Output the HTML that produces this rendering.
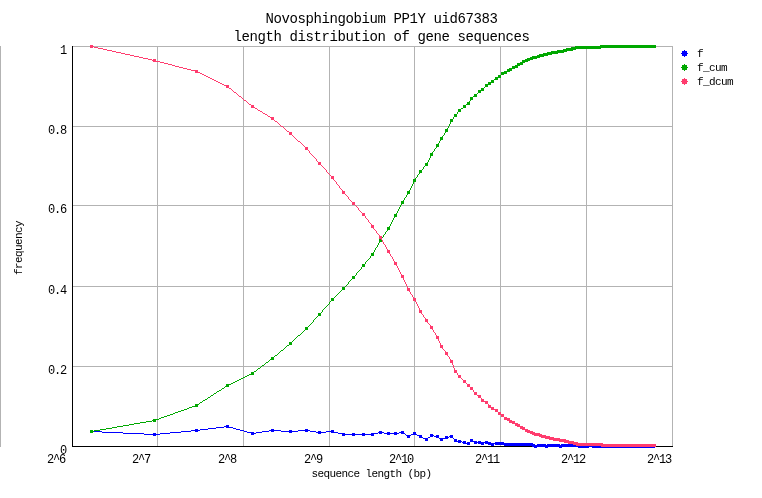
<!DOCTYPE html>
<html><head><meta charset="utf-8"><style>
html,body{margin:0;padding:0;background:#fff;}
svg{display:block;will-change:transform;}
text{font-family:"Liberation Mono";fill:#000;}
.a{font-size:14px;letter-spacing:-0.4px;}
.b{font-size:12px;letter-spacing:-1.2px;}
.c{font-size:11px;letter-spacing:-0.6px;}
</style></head><body>
<svg width="762" height="498" viewBox="0 0 762 498">
<rect width="762" height="498" fill="#fff"/>
<g fill="#b3b3b3"><rect x="157" y="46" width="1" height="400"/><rect x="243" y="46" width="1" height="400"/><rect x="329" y="46" width="1" height="400"/><rect x="414" y="46" width="1" height="400"/><rect x="500" y="46" width="1" height="400"/><rect x="586" y="46" width="1" height="400"/><rect x="72" y="46" width="600" height="1"/><rect x="72" y="126" width="600" height="1"/><rect x="72" y="205" width="600" height="1"/><rect x="72" y="286" width="600" height="1"/><rect x="72" y="366" width="600" height="1"/><rect x="672" y="46" width="1" height="401"/><rect x="0" y="46" width="1" height="401"/></g><g fill="#000"><rect x="72" y="46" width="1" height="401"/><rect x="72" y="446" width="601" height="1"/></g><g shape-rendering="crispEdges"><path fill="#0000ff" d="M226 425h3v1h-3zM224 426h5v1h-5zM216 427h8v1h-8zM226 427h7v1h-7zM208 428h8v1h-8zM233 428h3v1h-3zM195 429h3v1h-3zM200 429h8v1h-8zM236 429h4v1h-4zM271 429h3v1h-3zM305 429h3v1h-3zM90 430h3v1h-3zM191 430h9v1h-9zM240 430h4v1h-4zM269 430h12v1h-12zM289 430h3v1h-3zM298 430h12v1h-12zM331 430h3v1h-3zM90 431h12v1h-12zM181 431h10v1h-10zM195 431h3v1h-3zM244 431h3v1h-3zM262 431h7v1h-7zM271 431h3v1h-3zM281 431h17v1h-17zM305 431h3v1h-3zM310 431h6v1h-6zM318 431h3v1h-3zM326 431h8v1h-8zM379 431h3v1h-3zM401 431h3v1h-3zM90 432h3v1h-3zM102 432h21v1h-21zM170 432h11v1h-11zM247 432h7v1h-7zM256 432h6v1h-6zM289 432h3v1h-3zM316 432h10v1h-10zM331 432h7v1h-7zM378 432h6v1h-6zM387 432h3v1h-3zM394 432h3v1h-3zM399 432h5v1h-5zM413 432h3v1h-3zM123 433h21v1h-21zM153 433h3v1h-3zM160 433h10v1h-10zM251 433h5v1h-5zM318 433h3v1h-3zM338 433h7v1h-7zM352 433h3v1h-3zM362 433h3v1h-3zM371 433h7v1h-7zM379 433h3v1h-3zM384 433h15v1h-15zM401 433h4v1h-4zM413 433h3v1h-3zM144 434h16v1h-16zM251 434h3v1h-3zM342 434h32v1h-32zM387 434h3v1h-3zM394 434h3v1h-3zM405 434h1v1h-1zM411 434h6v1h-6zM430 434h3v1h-3zM153 435h3v1h-3zM342 435h3v1h-3zM352 435h3v1h-3zM362 435h3v1h-3zM371 435h3v1h-3zM406 435h5v1h-5zM417 435h5v1h-5zM430 435h4v1h-4zM436 435h3v1h-3zM450 435h3v1h-3zM407 436h3v1h-3zM419 436h3v1h-3zM430 436h3v1h-3zM434 436h5v1h-5zM445 436h3v1h-3zM449 436h4v1h-4zM407 437h3v1h-3zM419 437h4v1h-4zM428 437h2v1h-2zM436 437h3v1h-3zM445 437h4v1h-4zM450 437h3v1h-3zM423 438h5v1h-5zM439 438h9v1h-9zM453 438h1v1h-1zM425 439h3v1h-3zM440 439h3v1h-3zM454 439h3v1h-3zM470 439h3v1h-3zM425 440h3v1h-3zM440 440h3v1h-3zM454 440h3v1h-3zM458 440h3v1h-3zM470 440h3v1h-3zM454 441h8v1h-8zM463 441h3v1h-3zM470 441h7v1h-7zM478 441h3v1h-3zM485 441h3v1h-3zM458 442h3v1h-3zM462 442h4v1h-4zM467 442h3v1h-3zM474 442h17v1h-17zM495 442h9v1h-9zM463 443h7v1h-7zM474 443h3v1h-3zM478 443h6v1h-6zM485 443h48v1h-48zM467 444h3v1h-3zM481 444h3v1h-3zM488 444h6v1h-6zM495 444h40v1h-40zM537 444h9v1h-9zM547 444h13v1h-13zM561 444h18v1h-18zM587 444h6v1h-6zM491 445h3v1h-3zM504 445h151v1h-151zM532 446h123v1h-123zM534 447h3v1h-3zM545 447h3v1h-3zM559 447h3v1h-3zM578 447h11v1h-11zM592 447h63v1h-63z"/><path fill="#00a800" d="M600 45h56v1h-56zM575 46h81v1h-81zM571 47h85v1h-85zM566 48h35v1h-35zM563 49h13v1h-13zM557 50h16v1h-16zM551 51h16v1h-16zM547 52h17v1h-17zM543 53h15v1h-15zM539 54h13v1h-13zM537 55h11v1h-11zM532 56h12v1h-12zM530 57h10v1h-10zM527 58h10v1h-10zM525 59h8v1h-8zM522 60h8v1h-8zM522 61h6v1h-6zM520 62h5v1h-5zM517 63h6v1h-6zM517 64h6v1h-6zM515 65h5v1h-5zM512 66h6v1h-6zM512 67h6v1h-6zM509 68h6v1h-6zM507 69h5v1h-5zM507 70h5v1h-5zM504 71h6v1h-6zM501 72h6v1h-6zM501 73h6v1h-6zM501 74h3v1h-3zM498 75h3v1h-3zM498 76h3v1h-3zM495 77h6v1h-6zM495 78h3v1h-3zM494 79h4v1h-4zM491 80h3v1h-3zM491 81h3v1h-3zM488 82h6v1h-6zM488 83h3v1h-3zM485 84h6v1h-6zM485 85h3v1h-3zM485 86h3v1h-3zM484 87h1v1h-1zM481 88h3v1h-3zM481 89h3v1h-3zM478 90h6v1h-6zM478 91h3v1h-3zM478 92h3v1h-3zM477 93h1v1h-1zM474 94h3v1h-3zM474 95h3v1h-3zM473 96h4v1h-4zM470 97h3v1h-3zM470 98h3v1h-3zM470 99h3v1h-3zM470 100h1v1h-1zM469 101h1v1h-1zM467 102h3v1h-3zM467 103h3v1h-3zM466 104h4v1h-4zM463 105h3v1h-3zM463 106h3v1h-3zM463 107h3v1h-3zM461 108h2v1h-2zM458 109h3v1h-3zM458 110h3v1h-3zM458 111h3v1h-3zM457 112h1v1h-1zM457 113h1v1h-1zM454 114h3v1h-3zM454 115h3v1h-3zM454 116h3v1h-3zM453 117h1v1h-1zM453 118h1v1h-1zM450 119h3v1h-3zM450 120h3v1h-3zM450 121h3v1h-3zM450 122h1v1h-1zM450 123h1v1h-1zM449 124h1v1h-1zM449 125h1v1h-1zM448 126h1v1h-1zM448 127h1v1h-1zM447 128h1v1h-1zM445 129h3v1h-3zM445 130h3v1h-3zM445 131h3v1h-3zM445 132h1v1h-1zM444 133h1v1h-1zM444 134h1v1h-1zM443 135h1v1h-1zM442 136h1v1h-1zM440 137h3v1h-3zM440 138h3v1h-3zM440 139h3v1h-3zM440 140h1v1h-1zM439 141h1v1h-1zM439 142h1v1h-1zM438 143h1v1h-1zM436 144h3v1h-3zM436 145h3v1h-3zM436 146h3v1h-3zM436 147h1v1h-1zM435 148h1v1h-1zM434 149h1v1h-1zM434 150h1v1h-1zM433 151h1v1h-1zM432 152h1v1h-1zM430 153h3v1h-3zM430 154h3v1h-3zM430 155h3v1h-3zM430 156h1v1h-1zM430 157h1v1h-1zM429 158h1v1h-1zM429 159h1v1h-1zM428 160h1v1h-1zM428 161h1v1h-1zM427 162h1v1h-1zM425 163h3v1h-3zM425 164h3v1h-3zM425 165h3v1h-3zM424 166h1v1h-1zM423 167h1v1h-1zM423 168h1v1h-1zM422 169h1v1h-1zM419 170h3v1h-3zM419 171h3v1h-3zM419 172h3v1h-3zM419 173h1v1h-1zM418 174h1v1h-1zM417 175h1v1h-1zM417 176h1v1h-1zM416 177h1v1h-1zM415 178h1v1h-1zM413 179h3v1h-3zM413 180h3v1h-3zM413 181h3v1h-3zM413 182h1v1h-1zM413 183h1v1h-1zM412 184h1v1h-1zM412 185h1v1h-1zM411 186h1v1h-1zM411 187h1v1h-1zM410 188h1v1h-1zM410 189h1v1h-1zM409 190h1v1h-1zM407 191h3v1h-3zM407 192h3v1h-3zM407 193h3v1h-3zM407 194h1v1h-1zM406 195h1v1h-1zM406 196h1v1h-1zM405 197h1v1h-1zM404 198h1v1h-1zM404 199h1v1h-1zM403 200h1v1h-1zM401 201h3v1h-3zM401 202h3v1h-3zM401 203h3v1h-3zM401 204h1v1h-1zM400 205h1v1h-1zM400 206h1v1h-1zM399 207h1v1h-1zM399 208h1v1h-1zM398 209h1v1h-1zM398 210h1v1h-1zM397 211h1v1h-1zM397 212h1v1h-1zM396 213h1v1h-1zM394 214h3v1h-3zM394 215h3v1h-3zM394 216h3v1h-3zM394 217h1v1h-1zM393 218h1v1h-1zM393 219h1v1h-1zM392 220h1v1h-1zM392 221h1v1h-1zM391 222h1v1h-1zM391 223h1v1h-1zM390 224h1v1h-1zM390 225h1v1h-1zM389 226h1v1h-1zM387 227h3v1h-3zM387 228h3v1h-3zM387 229h3v1h-3zM387 230h1v1h-1zM386 231h1v1h-1zM385 232h1v1h-1zM385 233h1v1h-1zM384 234h1v1h-1zM383 235h1v1h-1zM383 236h1v1h-1zM382 237h1v1h-1zM381 238h1v1h-1zM379 239h3v1h-3zM379 240h3v1h-3zM379 241h3v1h-3zM379 242h1v1h-1zM378 243h1v1h-1zM378 244h1v1h-1zM377 245h1v1h-1zM377 246h1v1h-1zM376 247h1v1h-1zM375 248h1v1h-1zM375 249h1v1h-1zM374 250h1v1h-1zM374 251h1v1h-1zM373 252h1v1h-1zM371 253h3v1h-3zM371 254h3v1h-3zM371 255h3v1h-3zM370 256h1v1h-1zM370 257h1v1h-1zM369 258h1v1h-1zM368 259h1v1h-1zM367 260h1v1h-1zM366 261h1v1h-1zM365 262h1v1h-1zM365 263h1v1h-1zM362 264h3v1h-3zM362 265h3v1h-3zM362 266h3v1h-3zM361 267h1v1h-1zM361 268h1v1h-1zM360 269h1v1h-1zM359 270h1v1h-1zM358 271h1v1h-1zM357 272h1v1h-1zM356 273h1v1h-1zM356 274h1v1h-1zM355 275h1v1h-1zM352 276h3v1h-3zM352 277h3v1h-3zM352 278h3v1h-3zM351 279h1v1h-1zM350 280h1v1h-1zM349 281h1v1h-1zM348 282h1v1h-1zM348 283h1v1h-1zM347 284h1v1h-1zM346 285h1v1h-1zM345 286h1v1h-1zM342 287h3v1h-3zM342 288h3v1h-3zM342 289h3v1h-3zM341 290h1v1h-1zM340 291h1v1h-1zM339 292h1v1h-1zM338 293h1v1h-1zM337 294h1v1h-1zM336 295h1v1h-1zM335 296h1v1h-1zM334 297h1v1h-1zM331 298h3v1h-3zM331 299h3v1h-3zM331 300h3v1h-3zM330 301h1v1h-1zM329 302h1v1h-1zM329 303h1v1h-1zM328 304h1v1h-1zM327 305h1v1h-1zM326 306h1v1h-1zM325 307h1v1h-1zM324 308h1v1h-1zM323 309h1v1h-1zM322 310h1v1h-1zM322 311h1v1h-1zM321 312h1v1h-1zM318 313h3v1h-3zM318 314h3v1h-3zM318 315h3v1h-3zM317 316h1v1h-1zM316 317h1v1h-1zM315 318h1v1h-1zM314 319h1v1h-1zM313 320h1v1h-1zM313 321h1v1h-1zM312 322h1v1h-1zM311 323h1v1h-1zM310 324h1v1h-1zM309 325h1v1h-1zM308 326h1v1h-1zM305 327h3v1h-3zM305 328h3v1h-3zM305 329h3v1h-3zM304 330h1v1h-1zM303 331h1v1h-1zM302 332h1v1h-1zM301 333h1v1h-1zM300 334h1v1h-1zM298 335h2v1h-2zM297 336h1v1h-1zM296 337h1v1h-1zM295 338h1v1h-1zM294 339h1v1h-1zM293 340h1v1h-1zM292 341h1v1h-1zM289 342h3v1h-3zM289 343h3v1h-3zM289 344h3v1h-3zM287 345h2v1h-2zM286 346h1v1h-1zM285 347h1v1h-1zM284 348h1v1h-1zM283 349h1v1h-1zM281 350h2v1h-2zM280 351h1v1h-1zM279 352h1v1h-1zM278 353h1v1h-1zM277 354h1v1h-1zM275 355h2v1h-2zM274 356h1v1h-1zM271 357h3v1h-3zM271 358h3v1h-3zM270 359h4v1h-4zM269 360h1v1h-1zM268 361h1v1h-1zM266 362h2v1h-2zM265 363h1v1h-1zM264 364h1v1h-1zM262 365h2v1h-2zM261 366h1v1h-1zM260 367h1v1h-1zM258 368h2v1h-2zM257 369h1v1h-1zM256 370h1v1h-1zM254 371h2v1h-2zM251 372h3v1h-3zM251 373h3v1h-3zM249 374h5v1h-5zM247 375h2v1h-2zM245 376h2v1h-2zM243 377h2v1h-2zM241 378h2v1h-2zM239 379h2v1h-2zM237 380h2v1h-2zM235 381h2v1h-2zM233 382h2v1h-2zM231 383h2v1h-2zM226 384h5v1h-5zM226 385h3v1h-3zM225 386h4v1h-4zM224 387h1v1h-1zM222 388h2v1h-2zM221 389h1v1h-1zM219 390h2v1h-2zM217 391h2v1h-2zM216 392h1v1h-1zM214 393h2v1h-2zM213 394h1v1h-1zM211 395h2v1h-2zM210 396h1v1h-1zM208 397h2v1h-2zM207 398h1v1h-1zM205 399h2v1h-2zM203 400h2v1h-2zM202 401h1v1h-1zM200 402h2v1h-2zM199 403h1v1h-1zM195 404h4v1h-4zM195 405h3v1h-3zM192 406h6v1h-6zM189 407h3v1h-3zM187 408h2v1h-2zM184 409h3v1h-3zM181 410h3v1h-3zM178 411h3v1h-3zM175 412h3v1h-3zM173 413h2v1h-2zM170 414h3v1h-3zM167 415h3v1h-3zM164 416h3v1h-3zM161 417h3v1h-3zM159 418h2v1h-2zM153 419h6v1h-6zM152 420h4v1h-4zM146 421h6v1h-6zM153 421h3v1h-3zM140 422h6v1h-6zM134 423h6v1h-6zM129 424h5v1h-5zM123 425h6v1h-6zM117 426h6v1h-6zM112 427h5v1h-5zM106 428h6v1h-6zM100 429h6v1h-6zM90 430h3v1h-3zM94 430h6v1h-6zM90 431h4v1h-4zM90 432h3v1h-3z"/><path fill="#ff3c6e" d="M90 45h3v1h-3zM90 46h4v1h-4zM90 47h3v1h-3zM94 47h4v1h-4zM98 48h5v1h-5zM103 49h4v1h-4zM107 50h5v1h-5zM112 51h4v1h-4zM116 52h5v1h-5zM121 53h4v1h-4zM125 54h5v1h-5zM130 55h4v1h-4zM134 56h5v1h-5zM139 57h4v1h-4zM143 58h5v1h-5zM148 59h4v1h-4zM153 59h3v1h-3zM152 60h4v1h-4zM153 61h7v1h-7zM160 62h4v1h-4zM164 63h4v1h-4zM168 64h4v1h-4zM172 65h3v1h-3zM175 66h4v1h-4zM179 67h4v1h-4zM183 68h4v1h-4zM187 69h4v1h-4zM191 70h7v1h-7zM195 71h3v1h-3zM195 72h5v1h-5zM200 73h2v1h-2zM202 74h2v1h-2zM204 75h2v1h-2zM206 76h2v1h-2zM208 77h2v1h-2zM210 78h2v1h-2zM212 79h2v1h-2zM214 80h2v1h-2zM216 81h2v1h-2zM218 82h2v1h-2zM220 83h2v1h-2zM222 84h2v1h-2zM224 85h5v1h-5zM226 86h3v1h-3zM226 87h3v1h-3zM229 88h2v1h-2zM231 89h1v1h-1zM232 90h1v1h-1zM233 91h1v1h-1zM234 92h2v1h-2zM236 93h1v1h-1zM237 94h1v1h-1zM238 95h1v1h-1zM239 96h2v1h-2zM241 97h1v1h-1zM242 98h1v1h-1zM243 99h1v1h-1zM244 100h2v1h-2zM246 101h1v1h-1zM247 102h1v1h-1zM248 103h1v1h-1zM249 104h2v1h-2zM251 105h3v1h-3zM251 106h3v1h-3zM251 107h4v1h-4zM255 108h2v1h-2zM257 109h1v1h-1zM258 110h2v1h-2zM260 111h2v1h-2zM262 112h1v1h-1zM263 113h2v1h-2zM265 114h2v1h-2zM267 115h1v1h-1zM268 116h2v1h-2zM270 117h4v1h-4zM271 118h3v1h-3zM271 119h3v1h-3zM274 120h1v1h-1zM275 121h2v1h-2zM277 122h1v1h-1zM278 123h1v1h-1zM279 124h1v1h-1zM280 125h1v1h-1zM281 126h2v1h-2zM283 127h1v1h-1zM284 128h1v1h-1zM285 129h1v1h-1zM286 130h1v1h-1zM287 131h2v1h-2zM289 132h3v1h-3zM289 133h3v1h-3zM289 134h3v1h-3zM292 135h1v1h-1zM293 136h1v1h-1zM294 137h1v1h-1zM295 138h1v1h-1zM296 139h1v1h-1zM297 140h1v1h-1zM298 141h2v1h-2zM300 142h1v1h-1zM301 143h1v1h-1zM302 144h1v1h-1zM303 145h1v1h-1zM304 146h1v1h-1zM305 147h3v1h-3zM305 148h3v1h-3zM305 149h3v1h-3zM308 150h1v1h-1zM309 151h1v1h-1zM309 152h1v1h-1zM310 153h1v1h-1zM311 154h1v1h-1zM312 155h1v1h-1zM313 156h1v1h-1zM314 157h1v1h-1zM315 158h1v1h-1zM316 159h1v1h-1zM316 160h1v1h-1zM317 161h1v1h-1zM318 162h3v1h-3zM318 163h3v1h-3zM318 164h3v1h-3zM321 165h1v1h-1zM322 166h1v1h-1zM323 167h1v1h-1zM324 168h1v1h-1zM325 169h1v1h-1zM326 170h1v1h-1zM326 171h1v1h-1zM327 172h1v1h-1zM328 173h1v1h-1zM329 174h1v1h-1zM330 175h1v1h-1zM331 176h3v1h-3zM331 177h3v1h-3zM331 178h3v1h-3zM333 179h1v1h-1zM334 180h1v1h-1zM335 181h1v1h-1zM336 182h1v1h-1zM336 183h1v1h-1zM337 184h1v1h-1zM338 185h1v1h-1zM339 186h1v1h-1zM339 187h1v1h-1zM340 188h1v1h-1zM341 189h1v1h-1zM342 190h1v1h-1zM342 191h3v1h-3zM342 192h3v1h-3zM342 193h3v1h-3zM345 194h1v1h-1zM346 195h1v1h-1zM347 196h1v1h-1zM348 197h1v1h-1zM348 198h1v1h-1zM349 199h1v1h-1zM350 200h1v1h-1zM351 201h1v1h-1zM352 202h3v1h-3zM352 203h3v1h-3zM352 204h3v1h-3zM355 205h1v1h-1zM356 206h1v1h-1zM357 207h1v1h-1zM358 208h1v1h-1zM358 209h1v1h-1zM359 210h1v1h-1zM360 211h1v1h-1zM361 212h1v1h-1zM362 213h3v1h-3zM362 214h3v1h-3zM362 215h3v1h-3zM365 216h1v1h-1zM365 217h1v1h-1zM366 218h1v1h-1zM367 219h1v1h-1zM368 220h1v1h-1zM368 221h1v1h-1zM369 222h1v1h-1zM370 223h1v1h-1zM371 224h1v1h-1zM371 225h3v1h-3zM371 226h3v1h-3zM371 227h3v1h-3zM373 228h1v1h-1zM374 229h1v1h-1zM375 230h1v1h-1zM376 231h1v1h-1zM376 232h1v1h-1zM377 233h1v1h-1zM378 234h1v1h-1zM379 235h1v1h-1zM379 236h3v1h-3zM379 237h3v1h-3zM379 238h3v1h-3zM381 239h1v1h-1zM382 240h1v1h-1zM382 241h1v1h-1zM383 242h1v1h-1zM383 243h1v1h-1zM384 244h1v1h-1zM385 245h1v1h-1zM385 246h1v1h-1zM386 247h1v1h-1zM386 248h1v1h-1zM387 249h1v1h-1zM387 250h3v1h-3zM387 251h3v1h-3zM387 252h3v1h-3zM389 253h1v1h-1zM390 254h1v1h-1zM390 255h1v1h-1zM391 256h1v1h-1zM392 257h1v1h-1zM392 258h1v1h-1zM393 259h1v1h-1zM393 260h1v1h-1zM394 261h1v1h-1zM394 262h3v1h-3zM394 263h3v1h-3zM394 264h3v1h-3zM396 265h1v1h-1zM397 266h1v1h-1zM397 267h1v1h-1zM398 268h1v1h-1zM398 269h1v1h-1zM399 270h1v1h-1zM399 271h1v1h-1zM400 272h1v1h-1zM400 273h1v1h-1zM401 274h1v1h-1zM401 275h3v1h-3zM401 276h3v1h-3zM401 277h3v1h-3zM403 278h1v1h-1zM403 279h1v1h-1zM404 280h1v1h-1zM404 281h1v1h-1zM405 282h1v1h-1zM405 283h1v1h-1zM406 284h1v1h-1zM406 285h1v1h-1zM407 286h1v1h-1zM407 287h1v1h-1zM407 288h3v1h-3zM407 289h3v1h-3zM407 290h3v1h-3zM409 291h1v1h-1zM410 292h1v1h-1zM410 293h1v1h-1zM411 294h1v1h-1zM412 295h1v1h-1zM412 296h1v1h-1zM413 297h1v1h-1zM413 298h3v1h-3zM413 299h3v1h-3zM413 300h3v1h-3zM415 301h1v1h-1zM416 302h1v1h-1zM416 303h1v1h-1zM417 304h1v1h-1zM417 305h1v1h-1zM418 306h1v1h-1zM418 307h1v1h-1zM419 308h1v1h-1zM419 309h1v1h-1zM419 310h3v1h-3zM419 311h3v1h-3zM419 312h3v1h-3zM421 313h1v1h-1zM422 314h1v1h-1zM423 315h1v1h-1zM423 316h1v1h-1zM424 317h1v1h-1zM425 318h1v1h-1zM425 319h3v1h-3zM425 320h3v1h-3zM425 321h3v1h-3zM427 322h1v1h-1zM428 323h1v1h-1zM429 324h1v1h-1zM430 325h1v1h-1zM430 326h3v1h-3zM430 327h3v1h-3zM430 328h3v1h-3zM432 329h1v1h-1zM433 330h1v1h-1zM433 331h1v1h-1zM434 332h1v1h-1zM435 333h1v1h-1zM435 334h1v1h-1zM436 335h1v1h-1zM436 336h3v1h-3zM436 337h3v1h-3zM436 338h3v1h-3zM438 339h1v1h-1zM438 340h1v1h-1zM439 341h1v1h-1zM439 342h1v1h-1zM440 343h1v1h-1zM440 344h1v1h-1zM440 345h3v1h-3zM440 346h3v1h-3zM440 347h3v1h-3zM442 348h1v1h-1zM443 349h1v1h-1zM444 350h1v1h-1zM445 351h1v1h-1zM445 352h3v1h-3zM445 353h3v1h-3zM445 354h3v1h-3zM447 355h1v1h-1zM448 356h1v1h-1zM449 357h1v1h-1zM449 358h1v1h-1zM450 359h1v1h-1zM450 360h3v1h-3zM450 361h3v1h-3zM450 362h3v1h-3zM452 363h1v1h-1zM452 364h1v1h-1zM453 365h1v1h-1zM453 366h1v1h-1zM453 367h1v1h-1zM454 368h1v1h-1zM454 369h1v1h-1zM454 370h3v1h-3zM454 371h3v1h-3zM454 372h3v1h-3zM457 373h1v1h-1zM457 374h1v1h-1zM458 375h3v1h-3zM458 376h3v1h-3zM458 377h3v1h-3zM461 378h1v1h-1zM462 379h1v1h-1zM463 380h3v1h-3zM463 381h3v1h-3zM463 382h3v1h-3zM466 383h1v1h-1zM467 384h3v1h-3zM467 385h3v1h-3zM467 386h3v1h-3zM470 387h3v1h-3zM470 388h3v1h-3zM470 389h3v1h-3zM473 390h1v1h-1zM473 391h1v1h-1zM474 392h3v1h-3zM474 393h3v1h-3zM474 394h3v1h-3zM477 395h4v1h-4zM478 396h3v1h-3zM478 397h3v1h-3zM481 398h1v1h-1zM481 399h3v1h-3zM481 400h3v1h-3zM481 401h7v1h-7zM485 402h3v1h-3zM485 403h3v1h-3zM488 404h1v1h-1zM488 405h3v1h-3zM488 406h3v1h-3zM488 407h6v1h-6zM491 408h3v1h-3zM491 409h7v1h-7zM495 410h3v1h-3zM495 411h3v1h-3zM498 412h3v1h-3zM498 413h3v1h-3zM498 414h6v1h-6zM501 415h3v1h-3zM501 416h3v1h-3zM504 417h3v1h-3zM504 418h6v1h-6zM504 419h6v1h-6zM507 420h5v1h-5zM509 421h6v1h-6zM509 422h6v1h-6zM512 423h6v1h-6zM515 424h5v1h-5zM515 425h5v1h-5zM517 426h6v1h-6zM520 427h5v1h-5zM520 428h5v1h-5zM522 429h6v1h-6zM525 430h5v1h-5zM525 431h8v1h-8zM527 432h8v1h-8zM530 433h10v1h-10zM532 434h10v1h-10zM534 435h12v1h-12zM539 436h11v1h-11zM541 437h13v1h-13zM545 438h15v1h-15zM549 439h17v1h-17zM553 440h16v1h-16zM559 441h15v1h-15zM564 442h14v1h-14zM568 443h35v1h-35zM573 444h83v1h-83zM576 445h80v1h-80zM601 446h55v1h-55z"/></g><g fill="#0000ff"><rect x="682" y="51" width="5" height="5"/><rect x="684" y="50" width="1" height="7"/><rect x="681" y="53" width="7" height="1"/></g><g fill="#00a800"><rect x="682" y="65" width="5" height="5"/><rect x="684" y="64" width="1" height="7"/><rect x="681" y="67" width="7" height="1"/></g><g fill="#ff3c6e"><rect x="682" y="79" width="5" height="5"/><rect x="684" y="78" width="1" height="7"/><rect x="681" y="81" width="7" height="1"/></g><g fill="#000"><text x="265.5" y="23" class="a">Novosphingobium PP1Y uid67383</text><text x="233.5" y="41" class="a">length distribution of gene sequences</text><text x="60" y="53.6" class="b">1</text><text x="48" y="133.6" class="b">0.8</text><text x="48" y="212.6" class="b">0.6</text><text x="48" y="293.6" class="b">0.4</text><text x="48" y="373.6" class="b">0.2</text><text x="60" y="453.6" class="b">0</text><text x="47" y="462.6" class="b">2^6</text><text x="132" y="462.6" class="b">2^7</text><text x="218" y="462.6" class="b">2^8</text><text x="304" y="462.6" class="b">2^9</text><text x="389" y="462.6" class="b">2^10</text><text x="475" y="462.6" class="b">2^11</text><text x="561" y="462.6" class="b">2^12</text><text x="647" y="462.6" class="b">2^13</text><text x="311.5" y="477" class="c">sequence length (bp)</text><text x="0" y="0" class="c" transform="translate(21.5,275) rotate(-90)">frequency</text><text x="697" y="57" class="c">f</text><text x="697" y="71" class="c">f_cum</text><text x="697" y="85" class="c">f_dcum</text></g>
</svg></body></html>
